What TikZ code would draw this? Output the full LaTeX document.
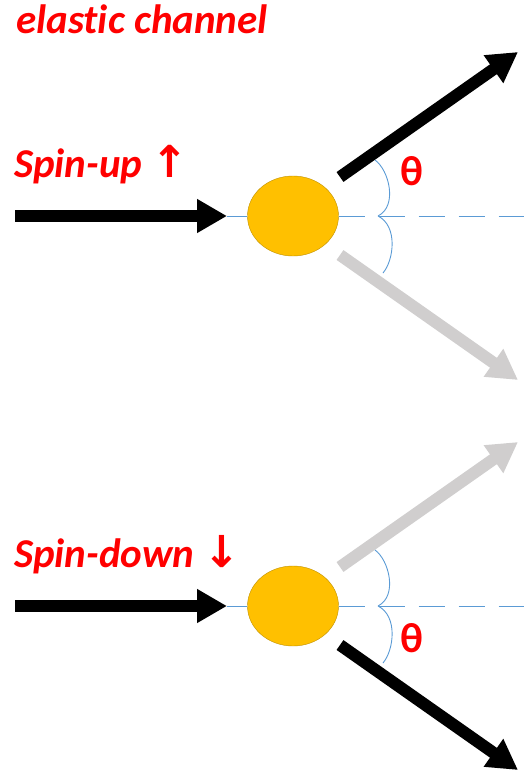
\documentclass[tikz,border=0pt]{standalone}
\usepackage{fontspec}
\setmainfont{Carlito}[Ligatures=CommonOff]
\newfontfamily\arrowfont{DejaVu Sans}
\usetikzlibrary{arrows.meta,shapes.geometric}

\definecolor{spinred}{RGB}{255,0,0}
\definecolor{nucleus}{RGB}{255,192,0}
\definecolor{nucleusrim}{RGB}{191,144,0}
\definecolor{axisblue}{RGB}{91,155,213}
\definecolor{faint}{RGB}{208,206,206}

\begin{document}
\begin{tikzpicture}[x=1pt,y=-1pt]
    \tikzset{beam/.style={line width=12pt,-{Triangle[length=30pt,width=32pt]}},
             spinlabel/.style={text=spinred,font=\bfseries\itshape\fontsize{41}{48}\selectfont,anchor=base west,inner sep=0pt},
             anglemark/.style={axisblue,line width=0.9pt}}
    \useasboundingbox (0,0) rectangle (524,774);

    \node[spinlabel] (title) at (16,33) {elastic channel};

    % one panel per spin state: incoming beam, target, scattered beams
    \foreach \i/\y/\spin/\upcol/\downcol/\ty in {up/216/{Spin-up {\arrowfont\bfseries\fontsize{44}{48}\selectfont ↑}}/black/faint/-45,
                                                 down/606/{Spin-down {\arrowfont\bfseries\fontsize{44}{48}\selectfont ↓}}/faint/black/32} {
        \node[spinlabel] (spin\i) at (14,{\y-39}) {\spin};

        \node[ellipse,draw=nucleusrim,fill=nucleus,minimum width=91pt,minimum height=80pt,inner sep=0pt] (target\i) at (293,\y) {};
        \coordinate (src\i) at (15,\y);
        \coordinate (hit\i) at (227,\y);

        % beam axis
        \draw[axisblue,line width=0.8pt] (hit\i) -- (target\i.west);
        \draw[axisblue,line width=0.8pt,dash pattern=on 26pt off 14pt] (target\i.east) -- (524,\y);
        \draw[beam] (src\i) -- (hit\i);

        % scattered beams
        \draw[beam,\upcol] ([shift={(47,-39)}]target\i.center) -- ([shift={(225,-164)}]target\i.center);
        \draw[beam,\downcol] ([shift={(47,39)}]target\i.center) -- ([shift={(225,164)}]target\i.center);

        % scattering angles
        \draw[anglemark] (375,{\y-56}) .. controls (389,{\y-46}) and (398,{\y-10}) .. (378,\y);
        \draw[anglemark] (378,\y) .. controls (398,{\y+10}) and (394,{\y+44}) .. (383,{\y+57});
        \node[text=spinred,font=\bfseries\fontsize{42}{48}\selectfont,inner sep=0pt] (theta\i) at (412,{\y+\ty}) {θ};
    }
\end{tikzpicture}
\end{document}
